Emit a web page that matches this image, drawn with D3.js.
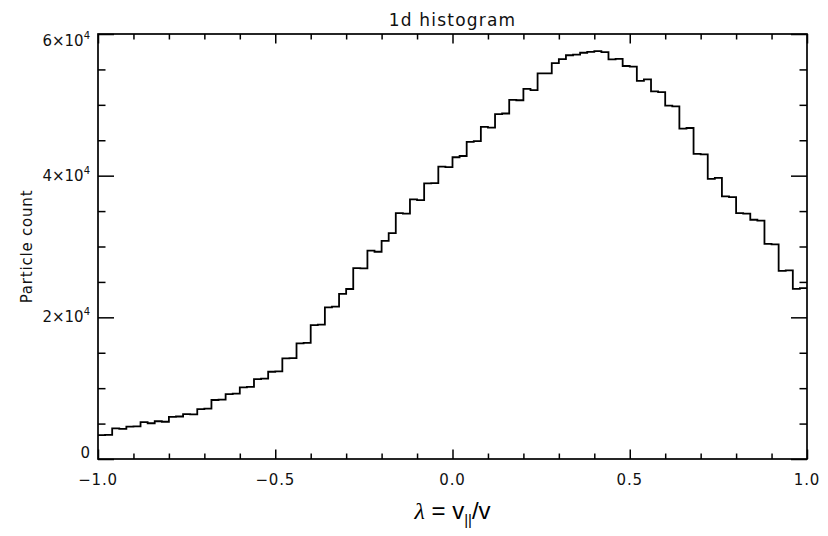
<!DOCTYPE html>
<html>
<head>
<meta charset="utf-8">
<script src="https://cdn.jsdelivr.net/npm/d3@7"></script>
<style>
body { margin: 0; background: #fff; }
text { font-family: "DejaVu Sans", sans-serif; fill: #111; }
</style>
</head>
<body>
<div id="chart"></div>
<script>
// histogram counts, 100 bins of width 0.02 from -1 to 1
const binStart = -1;
const binWidth = 0.02;
const counts = [
  3380, 3420, 4310, 4250, 4580, 4620, 5220, 5050, 5330, 5260,
  5950, 6000, 6340, 6290, 7040, 7120, 8330, 8380, 9150, 9230,
  10100, 10180, 11280, 11340, 12320, 12380, 14200, 14250, 16330, 16400,
  18900, 18960, 21420, 21500, 23300, 24000, 26950, 26900, 29420, 29260,
  30800, 31900, 34700, 34650, 36660, 36560, 38900, 38950, 41280, 41200,
  42600, 42780, 44780, 44880, 46880, 46780, 48700, 48780, 50700, 50650,
  52250, 52080, 54450, 54450, 55900, 56450, 57000, 57100, 57350, 57480,
  57580, 57450, 56420, 56480, 55480, 55400, 53380, 53600, 51900, 51800,
  49880, 49780, 46650, 46730, 43080, 43000, 39560, 39700, 37080, 36980,
  34700, 34650, 33780, 33660, 30380, 30300, 26560, 26640, 24020, 24120
];
const xMajor = [-1, -0.5, 0, 0.5, 1];
const xMinor = [-0.9, -0.8, -0.7, -0.6, -0.4, -0.3, -0.2, -0.1, 0.1, 0.2, 0.3, 0.4, 0.6, 0.7, 0.8, 0.9];
const yMajor = [0, 20000, 40000, 60000];
const yMinor = [5000, 10000, 15000, 25000, 30000, 35000, 45000, 50000, 55000];

const width = 828, height = 536;
const margin = { top: 34, right: 21, bottom: 77, left: 98 };
const iw = width - margin.left - margin.right;
const ih = height - margin.top - margin.bottom;

const svg = d3.select("#chart").append("svg")
  .attr("width", width)
  .attr("height", height);

const x = d3.scaleLinear().domain([-1, 1]).range([0, iw]);
const y = d3.scaleLinear().domain([0, 60000]).range([ih, 0]);

const g = svg.append("g")
  .attr("transform", `translate(${margin.left},${margin.top})`);

svg.append("defs").append("clipPath").attr("id", "clip")
  .append("rect").attr("width", iw).attr("height", ih);

// histogram line
const pts = counts.map((c, i) => [binStart + i * binWidth, c]);
pts.push([1, counts[counts.length - 1]]);
const line = d3.line()
  .x(d => x(d[0]))
  .y(d => y(d[1]))
  .curve(d3.curveStepAfter);

g.append("path")
  .datum(pts)
  .attr("clip-path", "url(#clip)")
  .attr("fill", "none")
  .attr("stroke", "#000")
  .attr("stroke-width", 1.8)
  .attr("d", line);

// tick marks, pointing inward on all four sides
function ticks(axis, vals, len) {
  return axis.tickValues(vals).tickSize(-len).tickSizeOuter(0).tickFormat("");
}
const tickStyle = sel => {
  sel.select(".domain").remove();
  sel.selectAll(".tick line").attr("stroke", "#000").attr("stroke-width", 1.5);
};
g.append("g").attr("transform", `translate(0,${ih})`).call(ticks(d3.axisBottom(x), xMajor, 9.5)).call(tickStyle);
g.append("g").attr("transform", `translate(0,${ih})`).call(ticks(d3.axisBottom(x), xMinor, 5.5)).call(tickStyle);
g.append("g").call(ticks(d3.axisTop(x), xMajor, 9.5)).call(tickStyle);
g.append("g").call(ticks(d3.axisTop(x), xMinor, 5.5)).call(tickStyle);
g.append("g").call(ticks(d3.axisLeft(y), yMajor, 16)).call(tickStyle);
g.append("g").call(ticks(d3.axisLeft(y), yMinor, 7.5)).call(tickStyle);
g.append("g").attr("transform", `translate(${iw},0)`).call(ticks(d3.axisRight(y), yMajor, 16)).call(tickStyle);
g.append("g").attr("transform", `translate(${iw},0)`).call(ticks(d3.axisRight(y), yMinor, 7.5)).call(tickStyle);

// frame
g.append("rect")
  .attr("width", iw).attr("height", ih)
  .attr("fill", "none").attr("stroke", "#000").attr("stroke-width", 1.7);

// x tick labels
const fmt = d3.format(".1f");
g.selectAll(".xlab").data(xMajor).enter().append("text")
  .attr("x", d => x(d))
  .attr("y", ih + 26)
  .attr("text-anchor", "middle")
  .attr("font-size", 15)
  .attr("letter-spacing", 0.8)
  .text(d => fmt(d));

// y tick labels
const ylab = g.selectAll(".ylab").data(yMajor).enter().append("text")
  .attr("x", -8)
  .attr("y", d => Math.min(Math.max(y(d) + 5, 12), ih - 1))
  .attr("text-anchor", "end")
  .attr("font-size", 15);
ylab.filter(d => d === 0).text("0");
ylab.filter(d => d !== 0).each(function(d) {
  const t = d3.select(this);
  t.append("tspan").text(`${d / 10000}×10`);
  t.append("tspan").attr("font-size", 10).attr("dy", -7).text("4");
});

// title
svg.append("text")
  .attr("x", margin.left + iw / 2)
  .attr("y", 26)
  .attr("text-anchor", "middle")
  .attr("font-size", 17)
  .attr("letter-spacing", 1.2)
  .text("1d histogram");

// y axis title
svg.append("text")
  .attr("transform", `translate(32,${margin.top + ih / 2}) rotate(-90)`)
  .attr("text-anchor", "middle")
  .attr("font-size", 15)
  .attr("letter-spacing", 0.8)
  .text("Particle count");

// x axis title
const xt = svg.append("text")
  .attr("x", margin.left + iw / 2)
  .attr("y", 519)
  .attr("text-anchor", "middle")
  .attr("font-size", 24)
  .style("font-family", "'Liberation Sans', Arial, sans-serif")
  .style("fill", "#000");
xt.append("tspan").style("font-family", "'Liberation Serif', serif").style("font-style", "italic").text("λ");
xt.append("tspan").text(" = v");
xt.append("tspan").attr("font-size", 15).attr("dy", 6).text("||");
xt.append("tspan").attr("dy", -6).text("/v");
</script>
</body>
</html>
